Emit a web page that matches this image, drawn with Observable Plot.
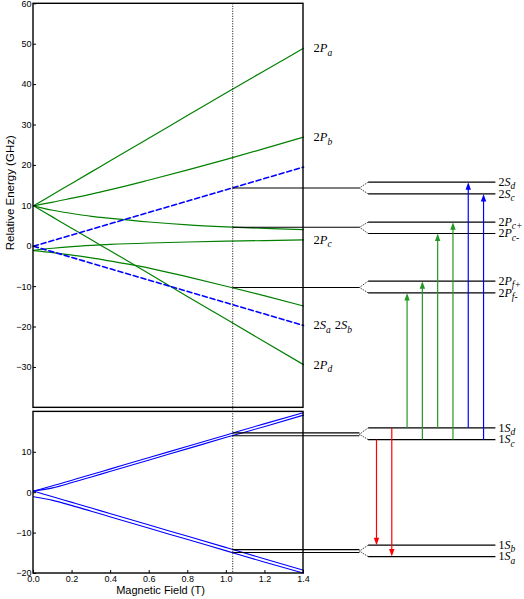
<!DOCTYPE html>
<html>
<head>
<meta charset="utf-8">
<script src="https://cdn.jsdelivr.net/npm/d3@7"></script>
<script src="https://cdn.jsdelivr.net/npm/@observablehq/plot@0.6"></script>
<style>
  html, body { margin: 0; padding: 0; background: #fff; }
  #chart { width: 524px; height: 599px; }
</style>
</head>
<body>
<div id="chart"></div>
<script>
// ================= DATA =================
// Magnetic field samples (T)
const fieldB = [0, 0.1, 0.2, 0.3, 0.4, 0.6, 0.8, 1.0, 1.2, 1.4];

// n = 2 levels (upper panel), relative energy in GHz
const e2Pa   = [10, 12.8, 15.6, 18.4, 21.2, 26.8, 32.4, 38.0, 43.5, 49.0];
const e2Pb   = [10, 10.9, 11.9, 12.9, 14.0, 16.4, 18.9, 21.5, 24.2, 27.0];
const e2Pcp  = [10, 8.9, 8.1, 7.4, 6.9, 6.0, 5.3, 4.8, 4.4, 4.1];
const e2Pc   = [-1.0, -0.5, -0.1, 0.2, 0.45, 0.8, 1.05, 1.25, 1.4, 1.55];
const e2Pf   = [-1.1, -1.6, -2.2, -2.9, -3.7, -5.4, -7.6, -9.9, -12.3, -14.8];
const e2Pd   = [10, 7.2, 4.4, 1.6, -1.2, -6.8, -12.5, -18.1, -23.7, -29.3];
const e2Scd  = [0, 1.4, 2.8, 4.2, 5.6, 8.4, 11.2, 14.0, 16.8, 19.6];
const e2Sab  = [0, -1.4, -2.8, -4.2, -5.6, -8.4, -11.2, -14.0, -16.8, -19.6];

// n = 1 levels (lower panel), GHz
const e1Sd = [0.4, 1.7, 3.1, 4.5, 5.9, 8.7, 11.5, 14.3, 17.1, 19.8];
const e1Sc = [0.4, 1.2, 2.5, 3.9, 5.3, 8.1, 10.9, 13.7, 16.4, 19.2];
const e1Sb = [0.4, -1.0, -2.4, -3.8, -5.2, -8.0, -10.8, -13.6, -16.4, -19.2];
const e1Sa = [-1.0, -1.9, -3.2, -4.6, -6.0, -8.8, -11.6, -14.4, -17.2, -19.9];

// Panel ranges (GHz)
const topDomain = [-40, 60];
const botDomain = [-20, 20];

// Operating field (T) and energies of the selected levels there
const fieldOp = 1.033;
const connGroupPanel = ["n2", "n2", "n2", "n1", "n1"];
const connGroupE = [[14.4], [4.7], [-10.2], [14.8, 14.1], [-14.1, -14.8]];

// Level diagram (split levels, GHz)
const levelNames = ["2S_d", "2S_c", "2P_c+", "2P_c-", "2P_f+", "2P_f-", "1S_d", "1S_c", "1S_b", "1S_a"];
const levelGroup = [0, 0, 1, 1, 2, 2, 3, 3, 4, 4];
const levelE = [15.85, 12.95, 5.95, 3.15, -8.65, -11.55, 16.05, 13.15, -13.0, -15.8];

// Curve labels at the right edge of the upper panel
const endLabels = ["2P_a", "2P_b", "2P_c", "2S_a 2S_b", "2P_d"];
const endLabelE = [49.0, 27.0, 1.55, -19.6, -29.3];

// Transitions (arrows)
const transFrom = ["1S_c", "1S_d", "1S_d", "1S_c", "1S_d", "1S_c", "1S_d", "1S_c"];
const transTo   = ["1S_b", "1S_a", "2P_f-", "2P_f+", "2P_c-", "2P_c+", "2S_d", "2S_c"];
const transKind = ["hf", "hf", "2P", "2P", "2P", "2P", "2S", "2S"];

// Axis ticks
const xTicks = [0, 0.2, 0.4, 0.6, 0.8, 1.0, 1.2, 1.4];
const yTicksTop = [60, 50, 40, 30, 20, 10, 0, -10, -20, -30];
const yTicksBot = [10, 0, -10, -20];

// ================= LAYOUT =================
const OFFSET = -61;                     // lower panel placed below upper one
const yv = (panel, e) => panel === "n1" ? e + OFFSET : e;
const forkStartB = 1.690, forkEndB = 1.735, levelEndB = 2.395;
const arrowB0 = 1.7785, arrowStepB = 0.0793;
const shaftGap = 1.2;
const GREEN = "#008000", BLUE = "#0000ff", RED = "#ff0000", AGREEN = "#229922";
const kindColor = {hf: RED, "2P": AGREEN, "2S": BLUE};
const SANS = "'Liberation Sans', Arial, Helvetica, sans-serif";
const SERIF = "'Liberation Serif', 'Times New Roman', Times, serif";

// ================= TABLES =================
const toRows = (arr, id, panel) => fieldB.map((b, i) => ({b, e: yv(panel, arr[i]), id}));
const greenRows = [
  ...toRows(e2Pa, "a", "n2"), ...toRows(e2Pb, "b", "n2"), ...toRows(e2Pcp, "cp", "n2"),
  ...toRows(e2Pc, "c", "n2"), ...toRows(e2Pf, "f", "n2"), ...toRows(e2Pd, "d", "n2")
];
const dashRows = [...toRows(e2Scd, "scd", "n2"), ...toRows(e2Sab, "sab", "n2")];
const oneSRows = [
  ...toRows(e1Sd, "d", "n1"), ...toRows(e1Sc, "c", "n1"),
  ...toRows(e1Sb, "b", "n1"), ...toRows(e1Sa, "a", "n1")
];
const panels = [
  {y1: yv("n2", topDomain[0]), y2: yv("n2", topDomain[1])},
  {y1: yv("n1", botDomain[0]), y2: yv("n1", botDomain[1])}
];
const connRows = [];
connGroupE.forEach((es, g) => es.forEach(e => connRows.push({y: yv(connGroupPanel[g], e)})));
const groupCenter = connGroupE.map((es, g) => yv(connGroupPanel[g], d3.mean(es)));
const levelPanel = levelNames.map(n => n.startsWith("1") ? "n1" : "n2");
const levelRows = levelNames.map((n, i) => ({name: n, y: yv(levelPanel[i], levelE[i]), c: groupCenter[levelGroup[i]]}));
const levelY = Object.fromEntries(levelRows.map(d => [d.name, d.y]));
const arrows = transFrom.map((f, i) => {
  const y1 = levelY[f], y2 = levelY[transTo[i]];
  const dir = Math.sign(y2 - y1);
  return {x: arrowB0 + i * arrowStepB, y1, y2, ys: y2 - dir * shaftGap, up: dir > 0, color: kindColor[transKind[i]]};
});
const endRows = endLabels.map((t, i) => ({t, y: endLabelE[i]}));

const headUp = {draw(ctx) { ctx.moveTo(0, 0); ctx.lineTo(-2.7, 7.5); ctx.lineTo(2.7, 7.5); ctx.closePath(); }};
const headDown = {draw(ctx) { ctx.moveTo(0, 0); ctx.lineTo(-2.7, -7.5); ctx.lineTo(2.7, -7.5); ctx.closePath(); }};

const yTickVals = [...yTicksTop.map(v => yv("n2", v)), ...yTicksBot.map(v => yv("n1", v))];
const fmtInt = d3.format("d");
const fmtY = v => fmtInt(v >= topDomain[0] ? v : v - OFFSET);

// ================= PLOT =================
const svg = Plot.plot({
  width: 524,
  height: 599,
  marginLeft: 33,
  marginRight: 221,
  marginTop: 3.3,
  marginBottom: 26,
  x: {domain: [0, 1.4]},
  y: {domain: [yv("n1", botDomain[0]), topDomain[1]]},
  style: {fontFamily: SANS, fontSize: "9px", background: "#fff", color: "#000"},
  marks: [
    Plot.line(greenRows, {x: "b", y: "e", z: "id", stroke: GREEN, strokeWidth: 1.2, curve: "monotone-x"}),
    Plot.line(dashRows, {x: "b", y: "e", z: "id", stroke: BLUE, strokeWidth: 1.6, strokeDasharray: "5,3"}),
    Plot.line(oneSRows, {x: "b", y: "e", z: "id", stroke: BLUE, strokeWidth: 1.1, curve: "monotone-x"}),
    Plot.rect(panels, {x1: () => 0, x2: () => 1.4, y1: "y1", y2: "y2", fill: "none", stroke: "#000", strokeWidth: 1.4}),
    Plot.ruleX([fieldOp], {y1: () => topDomain[1], y2: () => yv("n1", botDomain[0]), stroke: "#000", strokeWidth: 1, strokeDasharray: "1,1.5"}),
    // connectors from operating field to the level diagram
    Plot.link(connRows, {x1: () => fieldOp, x2: () => forkStartB, y1: "y", y2: "y", stroke: "#000", strokeWidth: 1.1}),
    // fork (splitting) lines
    Plot.link(levelRows, {x1: () => forkStartB, x2: () => forkEndB, y1: "c", y2: "y", stroke: "#333", strokeWidth: 1, strokeDasharray: "1.2,1"}),
    // split levels
    Plot.link(levelRows, {x1: () => forkEndB, x2: () => levelEndB, y1: "y", y2: "y", stroke: "#000", strokeWidth: 1.2}),
    // arrows
    Plot.link(arrows, {x1: "x", x2: "x", y1: "y1", y2: "ys", stroke: "color", strokeWidth: 1.2}),
    Plot.dot(arrows.filter(d => d.up), {x: "x", y: "y2", symbol: headUp, fill: "color", stroke: "none"}),
    Plot.dot(arrows.filter(d => !d.up), {x: "x", y: "y2", symbol: headDown, fill: "color", stroke: "none"}),
    // level labels
    Plot.text(levelRows, {x: () => levelEndB, y: "y", text: "name", dx: 3, textAnchor: "start", fontFamily: SERIF, fontSize: 12, fill: "#000"}),
    Plot.text(endRows, {x: () => 1.4, y: "y", text: "t", dx: 10, textAnchor: "start", fontFamily: SERIF, fontSize: 12.5, fill: "#000"}),
    // axes
    Plot.axisX({ticks: xTicks, tickFormat: d3.format(".1f"), tickSize: -3, tickPadding: 5, label: null}),
    Plot.axisY({ticks: yTickVals, tickFormat: fmtY, tickSize: -3, tickPadding: 5, label: null}),
    Plot.text(["Magnetic Field (T)"], {frameAnchor: "bottom", x: () => 0.7, dx: -8, dy: 20, fontSize: 11, fontFamily: SANS}),
    Plot.text(["Relative Energy (GHz)"], {frameAnchor: "left", y: () => -1, dx: -23, rotate: -90, fontSize: 11.5, fontFamily: SANS})
  ]
});

// Sub/italic formatting for state labels such as 2P_a, 1S_d, 2P_c+
d3.select(svg).selectAll("text").each(function () {
  const t = this.textContent;
  if (!t.includes("_")) return;
  const el = d3.select(this);
  el.text(null);
  const subDy = 3.4;
  t.split(" ").forEach((tok, k) => {
    const m = tok.match(/^(\d)([A-Za-z])_(.+)$/);
    if (!m) return;
    el.append("tspan").attr("dx", k > 0 ? 4 : null).attr("dy", k > 0 ? -subDy : null).text(m[1]);
    el.append("tspan").attr("font-style", "italic").text(m[2]);
    el.append("tspan").attr("font-style", "italic").attr("font-size", 9.5).attr("dy", subDy).text(m[3]);
  });
});

document.getElementById("chart").appendChild(svg);
</script>
</body>
</html>
